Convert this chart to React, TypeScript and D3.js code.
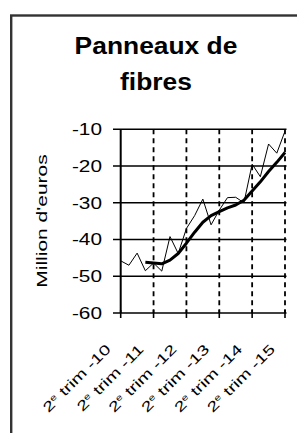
import React from "react";
import * as d3 from "d3";

const yearLabels = ["10", "11", "12", "13", "14", "15"];
const yTicks = [-10, -20, -30, -40, -50, -60];
// Quarterly values, 2e trim 2010 .. 2e trim 2015
const quarterly = [
  -45.8, -47, -43.7, -48.5, -46.4, -48.6, -39.2, -43.8, -37, -33.5, -29,
  -36, -32, -28.6, -28.5, -30, -19.5, -22.9, -14, -16.5, -10.5,
];
// Smoothed trend, from 1er trim 2011 (index 3) onwards
const trendStart = 3;
const trend = [
  -46.2, -46.4, -46.6, -45.6, -43.8, -41, -38, -35.3, -33.5, -32.4, -31.4,
  -30.6, -29.3, -26.8, -24.3, -21.5, -19, -16.3,
];

const W = 297;
const H = 433;
const FONT = "'Liberation Sans', Arial, sans-serif";

export default function App() {
  const x = d3.scaleLinear().domain([0, quarterly.length - 1]).range([120.7, 285]);
  const y = d3.scaleLinear().domain([-60, -10]).range([313, 129.3]);
  const line = d3
    .line<[number, number]>()
    .x((d) => x(d[0]))
    .y((d) => y(d[1]));
  const thinPts: [number, number][] = quarterly.map((v, i) => [i, v]);
  const thickPts: [number, number][] = trend.map((v, i) => [i + trendStart, v]);
  const xTickIdx = yearLabels.map((_, i) => i * 4);

  return (
    <svg
      width={W}
      height={H}
      style={{ position: "absolute", left: 0, top: 0, background: "#fff" }}
      fontFamily={FONT}
    >
      <rect x={0} y={0} width={W} height={H} fill="#fff" />
      {/* frame */}
      <rect x={11.2} y={15.5} width={320} height={440} fill="none" stroke="#333" strokeWidth={2.4} />

      {/* title */}
      <text transform="translate(156,54) scale(1.1,1)" textAnchor="middle" fontSize={24} fontWeight="bold" fill="#000">
        Panneaux de
      </text>
      <text transform="translate(156,90) scale(1.1,1)" textAnchor="middle" fontSize={24} fontWeight="bold" fill="#000">
        fibres
      </text>

      {/* y axis title */}
      <text transform="translate(47,221) rotate(-90) scale(1.4,1)" textAnchor="middle" fontSize={15} fill="#000">
        Million d'euros
      </text>

      {/* horizontal gridlines + y ticks */}
      {yTicks.map((t) => (
        <g key={t}>
          <line x1={113} x2={286.5} y1={y(t)} y2={y(t)} stroke="#000" strokeWidth={1.6} />
          <text
            transform={`translate(102,${y(t) + 5.8}) scale(1.3,1)`}
            textAnchor="end"
            fontSize={16}
            fill="#000"
          >
            {t}
          </text>
        </g>
      ))}

      {/* vertical dashed gridlines + x ticks */}
      {xTickIdx.map((i, k) => (
        <g key={i}>
          {k > 0 && (
            <line
              x1={x(i)}
              x2={x(i)}
              y1={y(-10)}
              y2={y(-60)}
              stroke="#000"
              strokeWidth={1.8}
              strokeDasharray="5,4"
            />
          )}
          <line x1={x(i)} x2={x(i)} y1={y(-60) - 3} y2={y(-60) + 5} stroke="#000" strokeWidth={1.6} />
          <text
            transform={`translate(${x(i) - 9},350) rotate(-45) scale(1.4,1)`}
            textAnchor="end"
            fontSize={14}
            fill="#000"
          >
            2<tspan fontSize={8.5} dy={-5}>e</tspan>
            <tspan dy={5}> trim -{yearLabels[k]}</tspan>
          </text>
        </g>
      ))}

      {/* y axis */}
      <line x1={x(0)} x2={x(0)} y1={y(-10)} y2={y(-60)} stroke="#000" strokeWidth={2} />

      {/* data */}
      <path d={line(thinPts) || ""} fill="none" stroke="#000" strokeWidth={1} />
      <path d={line(thickPts) || ""} fill="none" stroke="#000" strokeWidth={3} strokeLinejoin="round" />
    </svg>
  );
}
